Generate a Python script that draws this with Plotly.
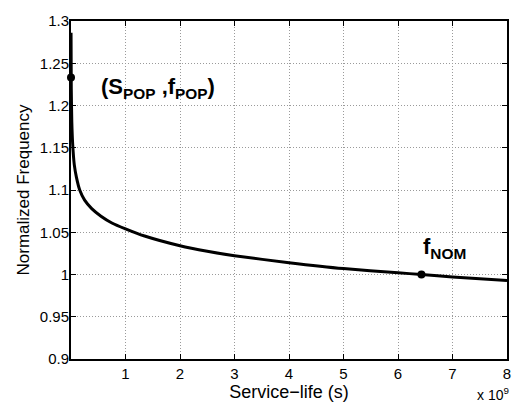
import plotly.graph_objects as go

# Service life (units of 1e9 s) and normalized frequency along the curve
service_life = [0.001, 0.005, 0.015, 0.03, 0.06, 0.1, 0.16, 0.25, 0.38, 0.55,
                0.75, 1.0, 1.35, 2.0, 2.5, 3.0, 4.0, 5.0, 6.0, 6.43, 7.0, 8.0]
norm_freq = [1.286, 1.22, 1.18, 1.155, 1.13, 1.115, 1.100, 1.088, 1.078, 1.069,
             1.061, 1.054, 1.0455, 1.034, 1.0275, 1.0222, 1.014, 1.007, 1.002,
             1.000, 0.997, 0.993]

# Marked operating points
pop_point = (0.0, 1.233)
nom_point = (6.43, 1.000)

x_ticks = [1, 2, 3, 4, 5, 6, 7, 8]
y_ticks = [0.9, 0.95, 1.0, 1.05, 1.1, 1.15, 1.2, 1.25, 1.3]
y_tick_text = ["0.9", "0.95", "1", "1.05", "1.1", "1.15", "1.2", "1.25", "1.3"]

font_family = "Liberation Sans, Arial, Helvetica, sans-serif"

fig = go.Figure()
fig.add_trace(go.Scatter(
    x=service_life, y=norm_freq, mode="lines",
    line=dict(color="black", width=3, shape="spline", smoothing=0.6),
    showlegend=False, hoverinfo="skip",
))
fig.add_trace(go.Scatter(
    x=[pop_point[0], nom_point[0]], y=[pop_point[1], nom_point[1]],
    mode="markers", marker=dict(color="black", size=8),
    cliponaxis=False, showlegend=False,
))

fig.add_annotation(
    x=0.52, y=1.2205, xref="x", yref="y", xanchor="left", yanchor="middle",
    text="<b>(S<sub>POP</sub> ,f<sub>POP</sub>)</b>", showarrow=False,
    font=dict(size=22, color="black", family=font_family),
)
fig.add_annotation(
    x=6.42, y=1.031, xref="x", yref="y", xanchor="left", yanchor="middle",
    text="<b>f<sub>NOM</sub></b>", showarrow=False,
    font=dict(size=22, color="black", family=font_family),
)
fig.add_annotation(
    x=1.01, y=-0.105, xref="paper", yref="paper", xanchor="right", yanchor="middle",
    text="x 10<sup>9</sup>", showarrow=False,
    font=dict(size=14, color="black", family=font_family),
)

axis_common = dict(
    showline=True, linecolor="black", linewidth=2, mirror="ticks",
    ticks="inside", ticklen=5, tickwidth=1, tickcolor="black",
    showgrid=True, gridcolor="#9a9a9a", griddash="1px,2px", gridwidth=1,
    zeroline=False, tickfont=dict(size=15, color="black", family=font_family),
)

fig.update_xaxes(
    range=[0, 8], tickvals=x_ticks, ticktext=[str(t) for t in x_ticks],
    title=dict(text="Service\u2212life (s)", standoff=2,
               font=dict(size=18, color="black", family=font_family)),
    **axis_common,
)
fig.update_yaxes(
    range=[0.9, 1.3], tickvals=y_ticks, ticktext=y_tick_text,
    ticklabelstandoff=-3,
    title=dict(text="Normalized Frequency", standoff=6,
               font=dict(size=17, color="black", family=font_family)),
    **axis_common,
)

fig.update_layout(
    width=523, height=409,
    margin=dict(l=71, r=13, t=13, b=49),
    paper_bgcolor="white", plot_bgcolor="white",
    font=dict(family=font_family, color="black"),
)

fig.write_html("out.html")
